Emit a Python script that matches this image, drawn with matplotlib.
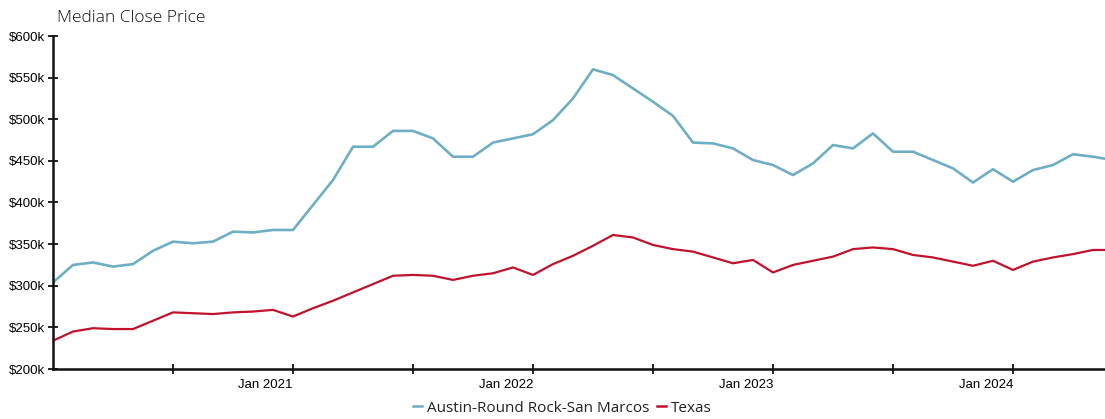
import matplotlib
matplotlib.use("Agg")
import matplotlib.pyplot as plt
from matplotlib.lines import Line2D

title = "Median Close Price"
series_names = ["Austin-Round Rock-San Marcos", "Texas"]
# Monthly values, Jan 2020 onward ($k)
austin = [304, 325, 328, 323, 326, 342, 353, 351, 353, 365, 364, 367,
          367, 397, 427, 467, 467, 486, 486, 477, 455, 455, 472, 477,
          482, 499, 525, 560, 553, 537, 521, 504, 472, 471, 465, 451,
          445, 433, 447, 469, 465, 483, 461, 461, 451, 441, 424, 440,
          425, 439, 445, 458, 455, 451]
texas = [234, 245, 249, 248, 248, 258, 268, 267, 266, 268, 269, 271,
         263, 273, 282, 292, 302, 312, 313, 312, 307, 312, 315, 322,
         313, 326, 336, 348, 361, 358, 349, 344, 341, 334, 327, 331,
         316, 325, 330, 335, 344, 346, 344, 337, 334, 329, 324, 330,
         319, 329, 334, 338, 343, 343]
x_tick_pos = [6, 12, 18, 24, 30, 36, 42, 48]
x_tick_labels = ["", "Jan 2021", "", "Jan 2022", "", "Jan 2023", "", "Jan 2024"]
y_ticks = [200, 250, 300, 350, 400, 450, 500, 550, 600]
y_tick_labels = ["$200k", "$250k", "$300k", "$350k", "$400k", "$450k", "$500k", "$550k", "$600k"]
colors = ["#6eaec4", "#c0122b"]

fig = plt.figure(figsize=(11.05, 4.19), dpi=100)
ax = fig.add_axes([53/1105, 50/419, 1052/1105, 333/419])
months = list(range(len(austin)))
ax.plot(months, austin, color=colors[0], lw=1.9, solid_joinstyle="round")
ax.plot(months, texas, color=colors[1], lw=1.6, solid_joinstyle="round")
ax.set_xlim(0, 52.6)
ax.set_ylim(200, 600)

for s in ["top", "right"]:
    ax.spines[s].set_visible(False)
for s in ["left", "bottom"]:
    ax.spines[s].set_linewidth(1.8)
    ax.spines[s].set_color("#111111")

ax.set_yticks(y_ticks)
ax.set_yticklabels(y_tick_labels, family="Liberation Sans", fontsize=9.5)
ax.set_xticks(x_tick_pos)
ax.set_xticklabels(x_tick_labels, family="Liberation Sans", fontsize=9.5, ha="right")
ax.tick_params(axis="both", direction="inout", length=7, width=1.3, color="#111111")
ax.tick_params(axis="y", pad=2)
ax.tick_params(axis="x", pad=4)

fig.text(57/1105, 1 - 18/419, title, family="Open Sans", fontweight="light",
         fontsize=12.5, va="center", ha="left", color="#111111")

handles = [Line2D([], [], color=colors[0], lw=1.8),
           Line2D([], [], color=colors[1], lw=1.8)]
leg = fig.legend(handles, series_names, loc="center", bbox_to_anchor=(562/1105, 1 - 408/419),
                 ncol=2, frameon=False, handlelength=0.6, handletextpad=0.3, columnspacing=0.5,
                 prop={"family": "Open Sans", "size": 11})
for t in leg.get_texts():
    t.set_color("#222222")

fig.savefig("out.png", dpi=100, facecolor="white")
